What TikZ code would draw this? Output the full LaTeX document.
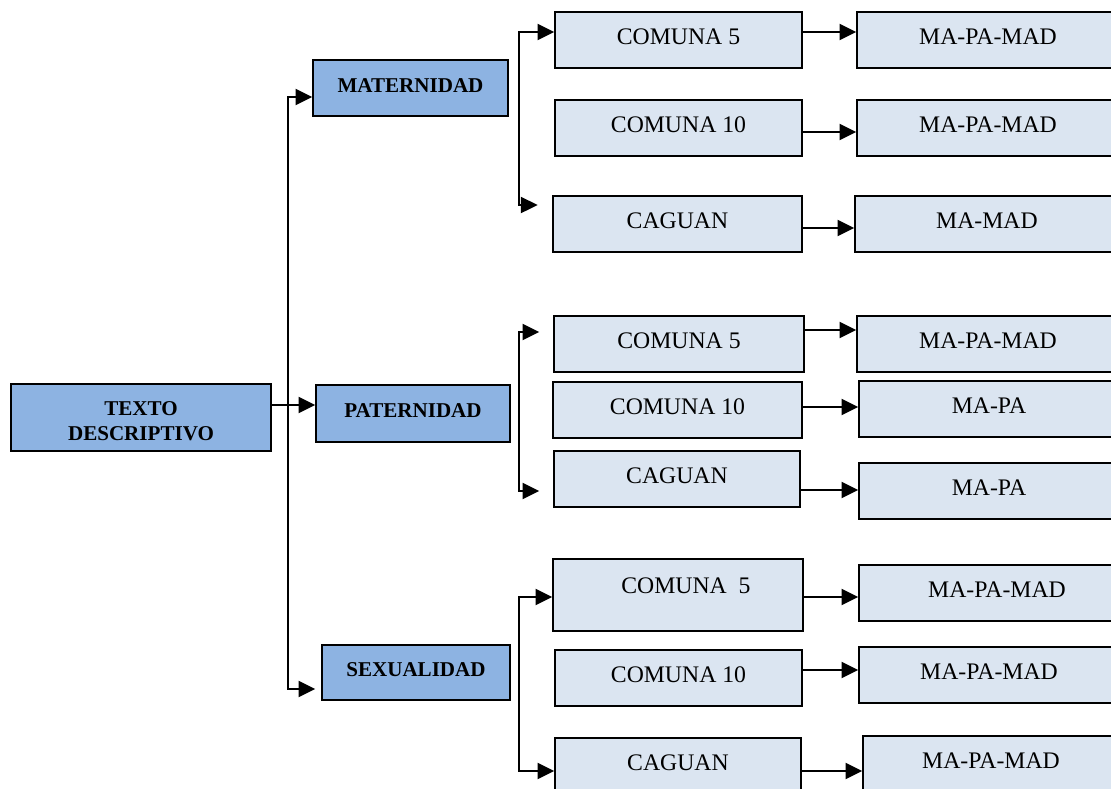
\documentclass[tikz,border=0pt]{standalone}
\usepackage{fontspec}
\setmainfont{Liberation Serif}
\usetikzlibrary{arrows.meta}
\definecolor{darkbox}{HTML}{8DB3E2}
\definecolor{lightbox}{HTML}{DBE5F1}

\begin{document}
\begin{tikzpicture}[x=0.75pt,y=-0.75pt]
  \tikzset{box/.style={draw, line width=1.1pt, inner sep=0pt, minimum height=42pt},
    topic/.style={box, fill=darkbox, font=\fontsize{15.8}{18.75}\selectfont\bfseries},
    oneline/.style={text height=11pt, text depth=5pt},
    place/.style={box, fill=lightbox, font=\fontsize{17.8}{21}\selectfont, text height=12pt, text depth=4.8pt},
    link/.style={line width=1.5pt},
    arrow/.style={line width=1.5pt, -{Triangle[length=12.5pt,width=12pt]}}}
  \useasboundingbox (0,0) rectangle (1111,789);
  % main topics
  \node[topic, align=center, minimum width=195pt, minimum height=50.25pt] (texto) at (141,417.5) {\rule{0pt}{16.7pt}TEXTO\\DESCRIPTIVO};
  \node[topic, oneline, minimum width=146.25pt] (mat) at (410.5,88) {MATERNIDAD};
  \node[topic, oneline, minimum width=145.5pt, minimum height=42.75pt] (pat) at (413,413.5) {PATERNIDAD};
  \node[topic, oneline, minimum width=141pt, minimum height=41.25pt] (sex) at (416,672.5) {SEXUALIDAD};
  % comunas
  \node[place, minimum width=185.25pt] (c11) at (678.5,40) {COMUNA 5};
  \node[place, minimum width=185.25pt] (c12) at (678.5,128) {COMUNA 10};
  \node[place, minimum width=186.75pt] (c13) at (677.5,224) {CAGUAN};
  \node[place, minimum width=187.5pt] (c21) at (679,344) {COMUNA 5};
  \node[place, minimum width=186.75pt] (c22) at (677.5,410) {COMUNA 10};
  \node[place, minimum width=184.5pt] (c23) at (677,479) {CAGUAN};
  \node[place, minimum width=187.5pt, minimum height=54pt, text depth=15pt] (c31) at (678,595) {\hspace{12pt}COMUNA\ \ 5};
  \node[place, minimum width=185.25pt] (c32) at (678.5,678) {COMUNA 10};
  \node[place, minimum width=184.5pt] (c33) at (678,766) {CAGUAN};
  % results
  \node[place, minimum width=196.5pt] (d11) at (988,40) {MA-PA-MAD};
  \node[place, minimum width=196.5pt] (d12) at (988,128) {MA-PA-MAD};
  \node[place, minimum width=198pt] (d13) at (987,224) {MA-MAD};
  \node[place, minimum width=196.5pt] (d21) at (988,344) {MA-PA-MAD};
  \node[place, minimum width=195pt] (d22) at (989,409) {MA-PA};
  \node[place, minimum width=195pt] (d23) at (989,491) {MA-PA};
  \node[place, minimum width=195pt] (d31) at (989,593) {\hspace{12pt}MA-PA-MAD};
  \node[place, minimum width=195pt] (d32) at (989,675) {MA-PA-MAD};
  \node[place, minimum width=192pt] (d33) at (991,764) {MA-PA-MAD};
  % joints
  \coordinate (t0) at (288,405);
  \coordinate (t1) at (288,97);
  \coordinate (t2) at (288,689);
  \coordinate (m1) at (519,32);
  \coordinate (m2) at (519,205);
  \coordinate (p1) at (519,332);
  \coordinate (p2) at (519,491);
  \coordinate (s1) at (519,597);
  \coordinate (s2) at (519,771);
  % trunk
  \draw[arrow] (texto.east |- t0) -- (t0 -| pat.west);
  \draw[arrow] (t2) -- (t1) -- (t1 -| mat.west);
  \draw[arrow, shorten >=4.5pt] (t1) -- (t2) -- (t2 -| sex.west);
  % branches
  \draw[arrow] (m2) -- (m1) -- (m1 -| c11.west);
  \draw[arrow, shorten >=11pt] (m1) -- (m2) -- (m2 -| c13.west);
  \draw[arrow, shorten >=10.5pt] (p2) -- (p1) -- (p1 -| c21.west);
  \draw[arrow, shorten >=10.5pt] (p1) -- (p2) -- (p2 -| c23.west);
  \draw[arrow] (s2) -- (s1) -- (s1 -| c31.west);
  \draw[arrow] (s1) -- (s2) -- (s2 -| c33.west);
  % comuna to result
  \draw[arrow] ([yshift=6pt]c11.east) -- ([yshift=6pt]c11.east -| d11.west);
  \draw[arrow] ([yshift=-3pt]c12.east) -- ([yshift=-3pt]c12.east -| d12.west);
  \draw[arrow] ([yshift=-3pt]c13.east) -- ([yshift=-3pt]c13.east -| d13.west);
  \draw[arrow] ([yshift=10.5pt]c21.east) -- ([yshift=10.5pt]c21.east -| d21.west);
  \draw[arrow] ([yshift=2.25pt]c22.east) -- ([yshift=2.25pt]c22.east -| d22.west);
  \draw[arrow] ([yshift=-8.25pt]c23.east) -- ([yshift=-8.25pt]c23.east -| d23.west);
  \draw[arrow] ([yshift=-1.5pt]c31.east) -- ([yshift=-1.5pt]c31.east -| d31.west);
  \draw[arrow] ([yshift=6pt]c32.east) -- ([yshift=6pt]c32.east -| d32.west);
  \draw[arrow] ([yshift=-3.75pt]c33.east) -- ([yshift=-3.75pt]c33.east -| d33.west);
\end{tikzpicture}
\end{document}
